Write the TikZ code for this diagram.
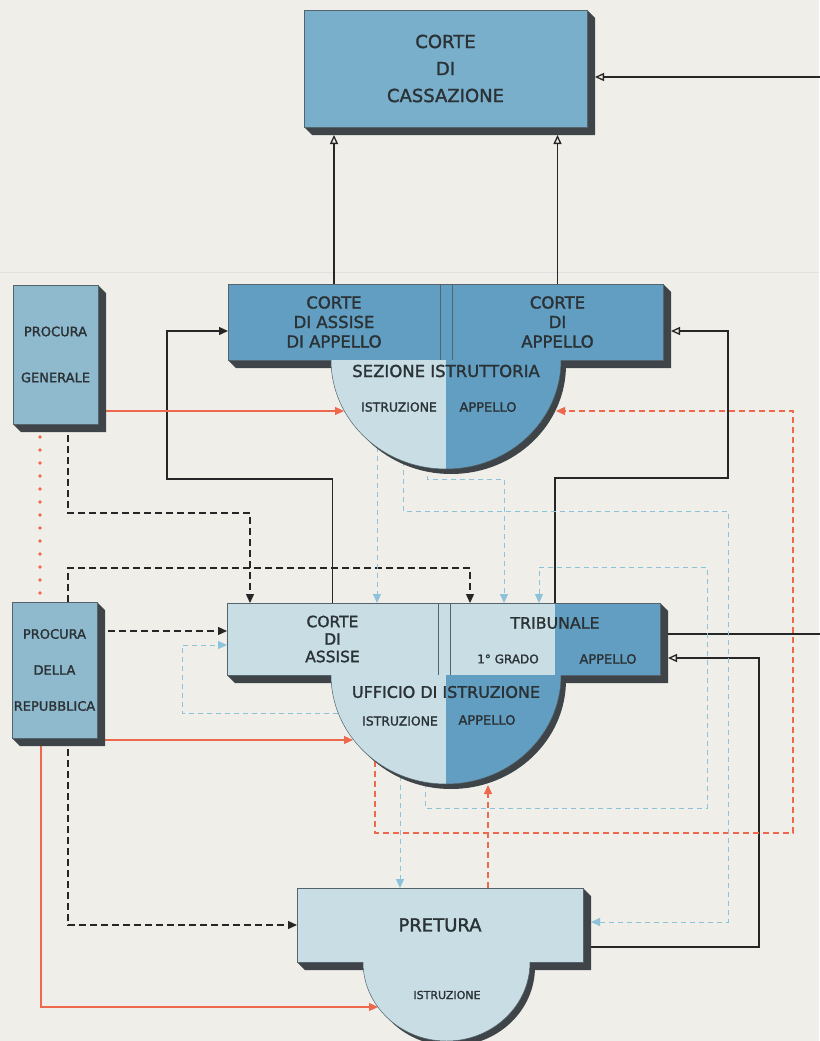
\documentclass[tikz,border=0pt]{standalone}
\usepackage{fontspec}
\setmainfont{DejaVu Sans}[FakeBold=1.6]
\usetikzlibrary{arrows.meta,calc}
\definecolor{paper}{RGB}{239,238,233}
\definecolor{cassblue}{RGB}{122,175,203}
\definecolor{deepblue}{RGB}{98,158,193}
\definecolor{procblue}{RGB}{143,186,206}
\definecolor{pale}{RGB}{201,221,229}
\definecolor{slabdark}{RGB}{62,68,72}
\definecolor{edge}{RGB}{84,100,108}
\definecolor{ink}{RGB}{42,50,54}
\definecolor{redline}{RGB}{238,104,78}
\definecolor{blueline}{RGB}{140,194,218}

\pgfdeclarelayer{paperlayer}
\pgfdeclarelayer{linelayer}
\pgfdeclarelayer{shadelayer}
\pgfsetlayers{paperlayer,linelayer,shadelayer,main}

\tikzset{
  slab/.style={draw=edge,line width=0.5pt,outer sep=0pt,inner sep=0pt,text=ink,align=center},
  lbl/.style={text=ink,inner sep=0pt},
  blk/.style={line width=1.3pt,black!85},
  blkdash/.style={blk,dash pattern=on 7pt off 4pt},
  rline/.style={line width=1.1pt,redline},
  rdash/.style={rline,dash pattern=on 6pt off 4pt},
  rdot/.style={redline,line width=3.6pt,line cap=round,dash pattern=on 0pt off 13pt},
  bdash/.style={line width=1pt,blueline,dash pattern=on 5pt off 4pt},
  tip/.style={-{Triangle[length=9pt,width=8pt]}},
  otip/.style={-{Triangle[open,length=9pt,width=8pt,fill=paper]}},
}

% extruded side of a slab: #1 gives the right end, #2 the left end
\newcommand{\slabshade}[2]{%
  \fill[slabdark] (#1.north east) -- ++(8,8) -- ($(#1.south east)+(8,8)$)
    -- ($(#2.south west)+(8,8)$) -- (#2.south west) -- cycle;}

\begin{document}
\begin{tikzpicture}[x=1pt,y=-1pt]
  \useasboundingbox (0,0) rectangle (819,1041);
  \begin{pgfonlayer}{paperlayer}
    \fill[paper] (0,0) rectangle (819,1041);
    \draw[black!12,line width=1pt] (0,272) -- (819,272);
  \end{pgfonlayer}

  % courts
  \node[slab,fill=cassblue,minimum width=283pt,minimum height=117pt,
    font=\fontsize{18}{27}\selectfont] (cass) at (445.5,68.5) {CORTE\\DI\\CASSAZIONE};
  \node[slab,fill=deepblue,minimum width=212pt,minimum height=76pt,
    font=\fontsize{16.5}{19.5}\selectfont] (cassapp) at (334,322) {CORTE\\DI ASSISE\\DI APPELLO};
  \node[slab,fill=deepblue,minimum width=211pt,minimum height=76pt,
    font=\fontsize{16.5}{19.5}\selectfont] (capp) at (557.5,322) {CORTE\\DI\\APPELLO};
  \draw[slab,fill=deepblue] (cassapp.north east) rectangle (capp.south west);

  \node[slab,fill=procblue,minimum width=85pt,minimum height=139pt,
    font=\fontsize{13}{46}\selectfont] (pg) at (55.5,354.5) {PROCURA\\GENERALE};
  \node[slab,fill=procblue,minimum width=85pt,minimum height=136pt,
    font=\fontsize{13}{36}\selectfont] (pdr) at (54.5,670) {PROCURA\\DELLA\\REPUBBLICA};

  \node[slab,fill=pale,minimum width=211pt,minimum height=72pt,
    font=\fontsize{15.5}{17.5}\selectfont] (assise) at (332.5,639) {CORTE\\DI\\ASSISE};
  \node[slab,fill=pale,minimum width=210pt,minimum height=72pt] (trib) at (555,639) {};
  \draw[slab,fill=pale] (assise.north east) rectangle (trib.south west);
  \fill[deepblue] (trib.north) rectangle (trib.south east);
  \draw[edge,line width=0.5pt] (trib.north west) rectangle (trib.south east);

  \node[slab,fill=pale,minimum width=286pt,minimum height=74pt,
    font=\fontsize{18}{20}\selectfont] (pret) at (440,925) {PRETURA};

  % half discs
  \coordinate (sezc) at (446,360);
  \coordinate (uffc) at (446,675);
  \coordinate (istc) at (446.5,962);
  \foreach \c in {sezc,uffc}{
    \fill[pale] (\c) -- ++(0,109) arc[start angle=-90,end angle=-180,x radius=115pt,y radius=109pt] -- cycle;
    \fill[deepblue] (\c) -- ++(115,0) arc[start angle=0,end angle=-90,x radius=115pt,y radius=109pt] -- cycle;
    \draw[edge,line width=0.5pt] ($(\c)+(115,0)$) arc[start angle=0,end angle=-180,x radius=115pt,y radius=109pt];
  }
  \fill[pale] ($(istc)+(83.5,0)$) arc[start angle=0,end angle=-180,x radius=83.5pt,y radius=79pt] -- cycle;
  \draw[edge,line width=0.5pt] ($(istc)+(83.5,0)$) arc[start angle=0,end angle=-180,x radius=83.5pt,y radius=79pt];

  \begin{pgfonlayer}{shadelayer}
    \slabshade{cass}{cass}
    \slabshade{capp}{cassapp}
    \slabshade{pg}{pg}
    \slabshade{pdr}{pdr}
    \slabshade{trib}{assise}
    \slabshade{pret}{pret}
    \foreach \c in {sezc,uffc}
      \fill[slabdark] ($(\c)+(120,5)$) arc[start angle=0,end angle=-180,x radius=115pt,y radius=109pt] -- cycle;
    \fill[slabdark] ($(istc)+(88.5,5)$) arc[start angle=0,end angle=-180,x radius=83.5pt,y radius=79pt] -- cycle;
  \end{pgfonlayer}

  % labels on the half discs and the tribunale
  \node[lbl,font=\fontsize{16.5}{18}\selectfont] (sezlbl) at (446,371) {SEZIONE ISTRUTTORIA};
  \node[lbl,font=\fontsize{12.4}{14}\selectfont] (sezist) at (399,407) {ISTRUZIONE};
  \node[lbl,font=\fontsize{13}{14}\selectfont] (sezapp) at (488,407) {APPELLO};
  \node[lbl,font=\fontsize{16}{18}\selectfont] (ufflbl) at (446,692) {UFFICIO DI ISTRUZIONE};
  \node[lbl,font=\fontsize{12.4}{14}\selectfont] (uffist) at (400,721) {ISTRUZIONE};
  \node[lbl,font=\fontsize{13}{14}\selectfont] (uffapp) at (487,720) {APPELLO};
  \node[lbl,font=\fontsize{15.8}{18}\selectfont] (triblbl) at (555,623) {TRIBUNALE};
  \node[lbl,font=\fontsize{12}{14}\selectfont] (tribgr) at (508,659) {1° GRADO};
  \node[lbl,font=\fontsize{13}{14}\selectfont] (tribapp) at (608,659) {APPELLO};
  \node[lbl,font=\fontsize{11}{13}\selectfont] (istlbl) at (447,995) {ISTRUZIONE};

  % ends of connectors on the half discs
  \coordinate (sezPG) at (344,411);
  \coordinate (sezUf) at (556,411);
  \coordinate (sezA) at (377,447);
  \coordinate (sezB) at (403,461);
  \coordinate (sezC) at (427,467);
  \coordinate (uffPR) at (353,740);
  \coordinate (uffL) at (338,713);
  \coordinate (uffR) at (375,761);
  \coordinate (uffP) at (400,776);
  \coordinate (uffT) at (425,783);
  \coordinate (uffPret) at (488,785);
  \coordinate (istPR) at (378,1007);

  % bends
  \coordinate (b1) at (167,479);
  \coordinate (b2) at (728,478);
  \coordinate (b3) at (830,77);
  \coordinate (b4) at (759,658);
  \coordinate (d1) at (250,513);
  \coordinate (d2) at (470,568);
  \coordinate (f1) at (793,833);
  \coordinate (g1) at (504,479);
  \coordinate (g2) at (728,511);
  \coordinate (g3) at (707,808);
  \coordinate (g4) at (539,567);
  \coordinate (g5) at (182,645);

  \begin{pgfonlayer}{linelayer}
    % appeals
    \draw[blk,otip,shorten >=8pt] (cassapp.north) -- (cassapp.north |- cass.south);
    \draw[blk,otip,shorten >=8pt] (capp.north) -- (capp.north |- cass.south);
    \draw[blk,tip] (assise.north) |- (b1) |- ([yshift=-9pt]cassapp.west);
    \draw[blk,otip,shorten >=8pt] (trib.north) |- (b2) |- ([yshift=-9pt]capp.east);
    \draw[blk,otip,shorten >=8pt] ([yshift=5pt]trib.east) -| (b3) -- ([yshift=-8.5pt]cass.east);
    \draw[blk,otip,shorten >=8pt] ([yshift=-22pt]pret.east) -| (b4) -- ([yshift=-19pt]trib.east);
    % prosecutors
    \draw[blkdash,tip] ([xshift=12.5pt]pg.south) |- (d1) -- (d1 |- assise.north);
    \draw[blkdash,tip] ([xshift=13.5pt]pdr.north) |- (d2) -- (d2 |- trib.north);
    \draw[blkdash,tip] ([yshift=39pt]pdr.east) coordinate (d3) -- (d3 -| assise.west);
    \draw[blkdash,tip] ([xshift=13.5pt]pdr.south) |- (pret.west);
    \draw[rline,tip] ([yshift=-56.5pt]pg.east) -- (sezPG);
    \draw[rline,tip] ([yshift=-70pt]pdr.east) -- (uffPR);
    \draw[rline,tip] ([xshift=-13.5pt]pdr.south) |- (istPR);
    \draw[rdot] ([xshift=-15.5pt]pg.south) coordinate (e1) -- (e1 |- pdr.north);
    % instruction
    \draw[rdash,tip] ([xshift=48pt]pret.north) -- (uffPret);
    \draw[rdash,tip] (uffR) |- (f1) |- (sezUf);
    \draw[bdash,tip] (sezA) -- (sezA |- assise.north);
    \draw[bdash,tip] (sezC) |- (g1) -- (g1 |- trib.north);
    \draw[bdash,tip,shorten >=8pt] (sezB) |- (g2) |- ([yshift=3pt]pret.east);
    \draw[bdash,tip] (uffT) |- (g3) |- (g4) -- (g4 |- trib.north);
    \draw[bdash,tip] (uffP) -- (uffP |- pret.north);
    \draw[bdash,tip] (uffL) -| (g5) -- (g5 -| assise.west);
  \end{pgfonlayer}
\end{tikzpicture}
\end{document}
